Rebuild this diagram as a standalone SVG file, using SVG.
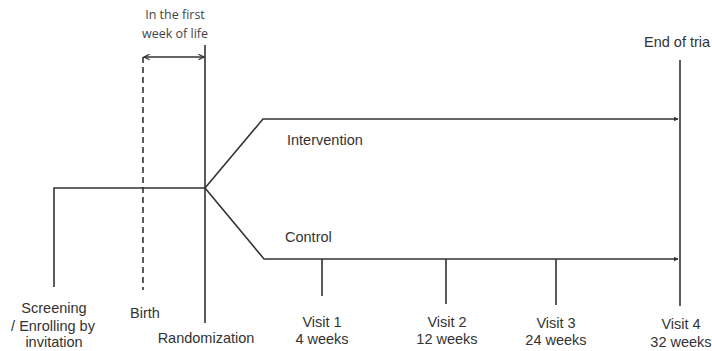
<svg xmlns="http://www.w3.org/2000/svg" width="712" height="351" viewBox="0 0 712 351">
<defs>
<marker id="tri" viewBox="0 0 10 10" refX="9" refY="5" markerWidth="5" markerHeight="5" orient="auto-start-reverse" markerUnits="userSpaceOnUse"><path d="M0,0 L10,5 L0,10 z" fill="#333"/></marker>
<marker id="chev" viewBox="0 0 10 10" refX="9" refY="5" markerWidth="7" markerHeight="7" orient="auto-start-reverse" markerUnits="userSpaceOnUse"><path d="M1,1 L9,5 L1,9" fill="none" stroke="#333" stroke-width="1.6"/></marker>
<style>
.ln{stroke:#333;stroke-width:1.6;fill:none}
.t{font-family:"Liberation Sans",Arial,sans-serif;font-size:14.5px;fill:#333;text-anchor:middle}
.ts{font-family:"Open Sans","Liberation Sans",sans-serif;font-size:12.5px;fill:#444;text-anchor:middle}
</style>
</defs>
<rect width="712" height="351" fill="#fff"/>
<g id="connectors">
<polyline class="ln" points="54,287 54,188 205,188"/>
<line class="ln" x1="143" y1="57" x2="143" y2="290" stroke-dasharray="6,4"/>
<line class="ln" x1="144" y1="57" x2="204" y2="57" marker-start="url(#chev)" marker-end="url(#chev)"/>
<line class="ln" x1="205" y1="45" x2="205" y2="323"/>
<polyline class="ln" points="205,188 263,119 678,119" marker-end="url(#tri)"/>
<polyline class="ln" points="205,188 264,259 678,259" marker-end="url(#tri)"/>
<line class="ln" x1="680" y1="60" x2="680" y2="306"/>
<line class="ln" x1="322" y1="259" x2="322" y2="296"/>
<line class="ln" x1="446" y1="259" x2="446" y2="304"/>
<line class="ln" x1="556" y1="259" x2="556" y2="305"/>
</g>
<g id="label-first-week"><text class="ts" x="175" y="19">In the first</text><text class="ts" x="175" y="38">week of life</text></g>
<g id="end-of-trial"><text class="t" x="644" y="47" style="text-anchor:start">End of tria</text></g>
<g id="intervention"><text class="t" x="287" y="145" style="text-anchor:start">Intervention</text></g>
<g id="control"><text class="t" x="285" y="242" style="text-anchor:start">Control</text></g>
<g id="screening"><text class="t" x="54" y="313">Screening</text><text class="t" x="53" y="331">/ Enrolling by</text><text class="t" x="54" y="347">invitation</text></g>
<g id="birth"><text class="t" x="145" y="318">Birth</text></g>
<g id="randomization"><text class="t" x="206" y="343">Randomization</text></g>
<g id="visit1"><text class="t" x="322" y="327">Visit 1</text><text class="t" x="322" y="344">4 weeks</text></g>
<g id="visit2"><text class="t" x="447" y="327">Visit 2</text><text class="t" x="447" y="344">12 weeks</text></g>
<g id="visit3"><text class="t" x="556" y="328">Visit 3</text><text class="t" x="556" y="345">24 weeks</text></g>
<g id="visit4"><text class="t" x="681" y="329">Visit 4</text><text class="t" x="681" y="347">32 weeks</text></g>
</svg>
